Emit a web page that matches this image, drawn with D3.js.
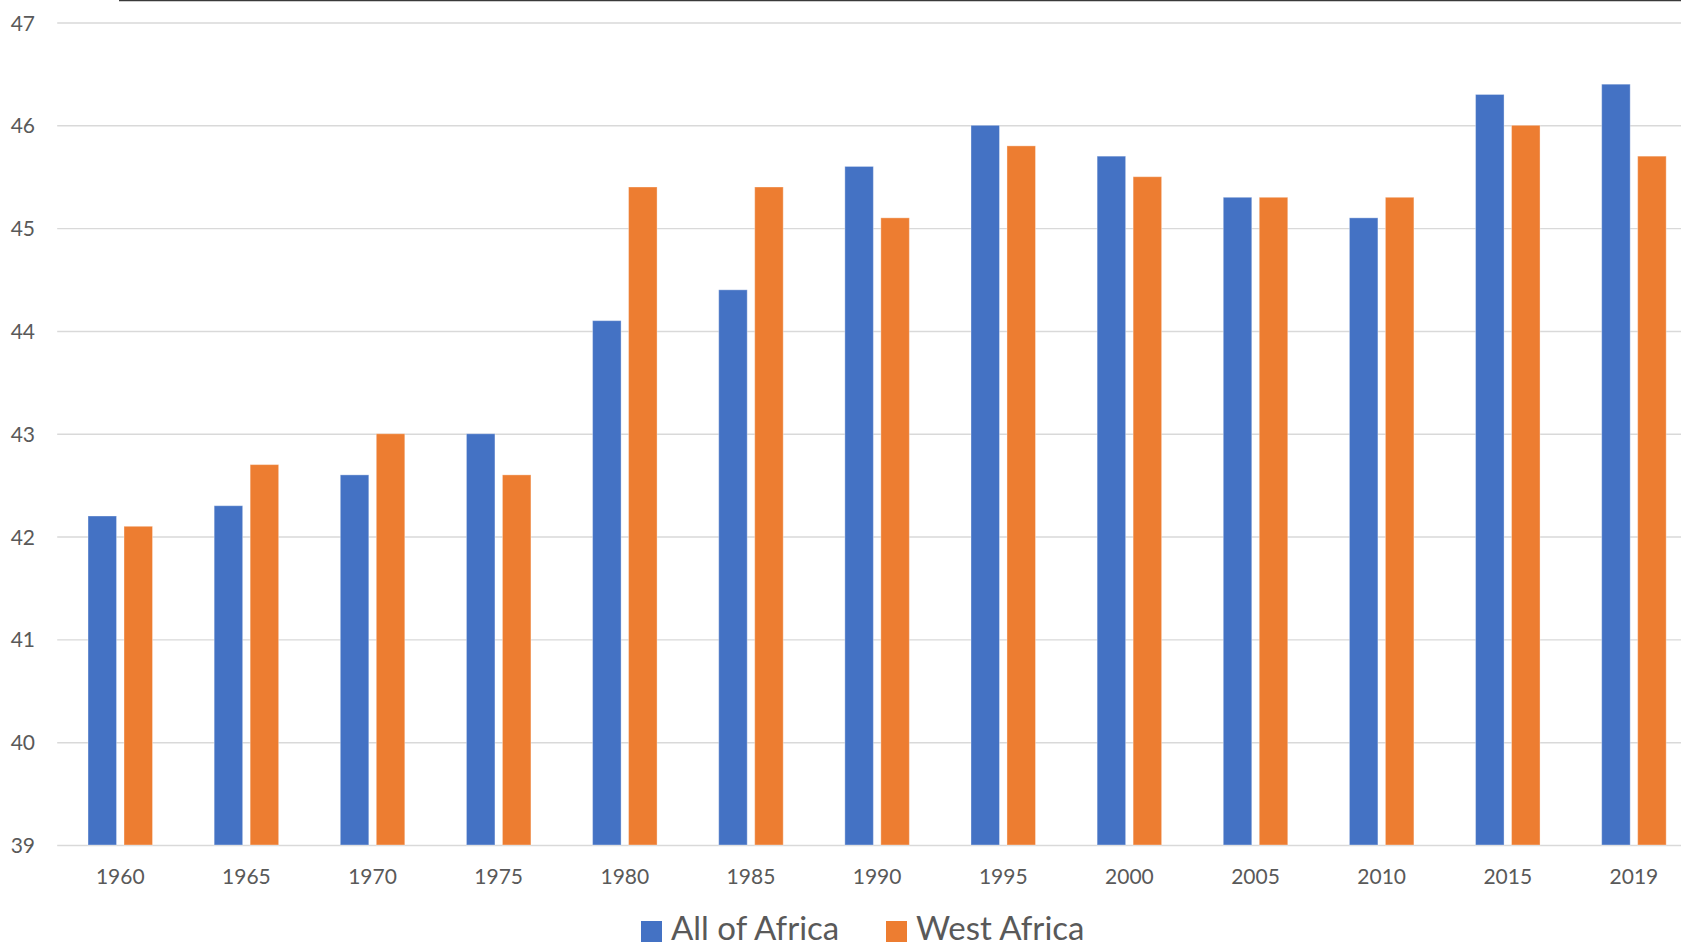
<!DOCTYPE html>
<html>
<head>
<meta charset="utf-8">
<script src="https://cdn.jsdelivr.net/npm/d3@7"></script>
<style>
  body { margin: 0; background: #fff; }
  svg { display: block; font-family: Lato, "Open Sans", sans-serif; }
</style>
</head>
<body>
<svg width="1681" height="948"></svg>
<script>
// chart data
const years = ["1960", "1965", "1970", "1975", "1980", "1985", "1990", "1995", "2000", "2005", "2010", "2015", "2019"];
const allAfrica = [42.2, 42.3, 42.6, 43.0, 44.1, 44.4, 45.6, 46.0, 45.7, 45.3, 45.1, 46.3, 46.4];
const westAfrica = [42.1, 42.7, 43.0, 42.6, 45.4, 45.4, 45.1, 45.8, 45.5, 45.3, 45.3, 46.0, 45.7];
const seriesNames = ["All of Africa", "West Africa"];
const yTicks = [39, 40, 41, 42, 43, 44, 45, 46, 47];
const colors = ["#4472C4", "#ED7D31"];

const rows = years.map((y, i) => ({ year: y, values: [allAfrica[i], westAfrica[i]] }));

const svg = d3.select("svg");
const plotLeft = 57.2, plotRight = 1697, plotTop = 22.5, plotBottom = 845;

const x0 = d3.scaleBand()
    .domain(years)
    .range([plotLeft, plotRight])
    .paddingInner(0.4887)
    .paddingOuter(0.24435);

const x1 = d3.scaleBand()
    .domain(seriesNames)
    .range([0, x0.bandwidth()])
    .paddingInner(0.208);

const y = d3.scaleLinear()
    .domain([39, 47])
    .range([plotBottom, plotTop]);

// top border line
svg.append("line")
    .attr("x1", 119).attr("x2", 1681)
    .attr("y1", 0.5).attr("y2", 0.5)
    .attr("stroke", "#3a3a3a")
    .attr("stroke-width", 1.5);

// grid + y labels
const yAxis = svg.append("g")
    .attr("transform", `translate(${plotLeft},0)`)
    .call(d3.axisLeft(y).tickValues(yTicks).tickSize(-(plotRight - plotLeft)).tickFormat(d3.format("d")));
yAxis.select(".domain").remove();
yAxis.selectAll(".tick line")
    .attr("stroke", "#d9d9d9")
    .attr("stroke-width", 1.4);
yAxis.selectAll(".tick text")
    .attr("x", 35 - plotLeft)
    .attr("dy", "0.36em")
    .attr("fill", "#595959")
    .style("font-size", "21px")
    .style("font-family", "Lato, sans-serif");

// bars
const groups = svg.append("g")
    .selectAll("g")
    .data(rows)
    .enter()
    .append("g")
    .attr("transform", d => `translate(${x0(d.year)},0)`);

groups.selectAll("rect")
    .data(d => d.values.map((v, i) => ({ name: seriesNames[i], value: v, i: i })))
    .enter()
    .append("rect")
    .attr("x", d => x1(d.name))
    .attr("width", x1.bandwidth())
    .attr("y", d => y(d.value))
    .attr("height", d => y(39) - y(d.value))
    .attr("fill", d => colors[d.i])
    .attr("stroke", "rgba(255,255,255,0.35)")
    .attr("stroke-width", 1);

// x labels
const xAxis = svg.append("g")
    .attr("transform", `translate(0,${plotBottom})`)
    .call(d3.axisBottom(x0).tickSize(0).tickPadding(0));
xAxis.select(".domain").remove();
xAxis.selectAll(".tick text")
    .attr("y", 39)
    .attr("dy", 0)
    .attr("fill", "#595959")
    .style("font-size", "21px")
    .style("font-family", "Lato, sans-serif");

// legend
const legendX = [641, 886];
const legend = svg.append("g")
    .selectAll("g")
    .data(seriesNames)
    .enter()
    .append("g")
    .attr("transform", (d, i) => `translate(${legendX[i]},0)`);

legend.append("rect")
    .attr("y", 921)
    .attr("width", 21)
    .attr("height", 21)
    .attr("fill", (d, i) => colors[i]);

legend.append("text")
    .attr("x", 30)
    .attr("y", 940)
    .attr("fill", "#595959")
    .style("font-size", "33px")
    .text(d => d);
</script>
</body>
</html>
